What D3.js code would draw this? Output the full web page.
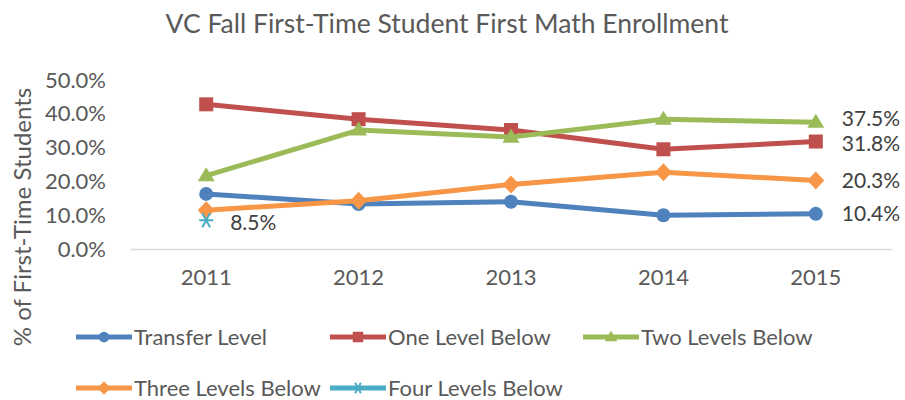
<!DOCTYPE html>
<html>
<head>
<meta charset="utf-8">
<script src="https://cdn.jsdelivr.net/npm/d3@7"></script>
<style>
body { margin: 0; background: #fff; }
svg text { font-family: Lato, "Open Sans", sans-serif; }
</style>
</head>
<body>
<div id="chart"></div>
<script>
let years = ['2011', '2012', '2013', '2014', '2015']
let yTicks = [0, 0.1, 0.2, 0.3, 0.4, 0.5]

let transferLevel = [0.163, 0.133, 0.140, 0.100, 0.104]
let oneLevelBelow = [0.428, 0.384, 0.352, 0.295, 0.318]
let twoLevelsBelow = [0.217, 0.352, 0.331, 0.384, 0.375]
let threeLevelsBelow = [0.115, 0.143, 0.191, 0.227, 0.203]
let fourLevelsBelow = [0.085, null, null, null, null]

let seriesNames = ['Transfer Level', 'One Level Below', 'Two Levels Below', 'Three Levels Below', 'Four Levels Below']
let seriesColors = ['#4f81bd', '#c0504d', '#9bbb59', '#f79646', '#4bacc6']
let seriesShapes = ['circle', 'square', 'triangle', 'diamond', 'asterisk']

let series = [transferLevel, oneLevelBelow, twoLevelsBelow, threeLevelsBelow, fourLevelsBelow]
.map((vals, i) => ({ name: seriesNames[i], color: seriesColors[i], shape: seriesShapes[i], values: vals }))

let width = 905, height = 400

let svg = d3.select('#chart')
.append('svg')
.attr('width', width)
.attr('height', height)

// title
svg.append('text')
.attr('x', 447)
.attr('y', 33)
.attr('text-anchor', 'middle')
.style('font-size', '26.5px')
.style('fill', '#595959')
.text('VC Fall First-Time Student First Math Enrollment')

let x = d3.scaleBand().domain(years).range([130, 892])
let y = d3.scaleLinear().domain([0, 0.5]).range([249, 80])

// y axis, labels only
let yAxis = svg.append('g')
.attr('transform', 'translate(106,0)')
.call(d3.axisLeft(y).tickValues(yTicks).tickFormat(d3.format('.1%')).tickSize(0).tickPadding(0))
yAxis.select('.domain').remove()
yAxis.selectAll('text').style('font-size', '22px').style('fill', '#595959').style('font-family', 'Lato, sans-serif')

// x axis
let xAxis = svg.append('g')
.attr('transform', `translate(0,${y(0)})`)
.call(d3.axisBottom(x).tickSize(0).tickPadding(20))
xAxis.select('.domain').attr('stroke', '#d9d9d9').attr('stroke-width', 1.5)
xAxis.selectAll('text').style('font-size', '22px').style('fill', '#595959').style('font-family', 'Lato, sans-serif')

// y axis title
svg.append('text')
.attr('transform', 'translate(31,217) rotate(-90)')
.attr('text-anchor', 'middle')
.style('font-size', '24px')
.style('fill', '#595959')
.text('% of First-Time Students')

let cx = d => x(d) + x.bandwidth() / 2

function drawMarker(g, shape, color, k) {
    // k scales the marker (1 = plot size)
    if (shape == 'asterisk') {
        let s = 7 * k
        g.append('path')
        .attr('d', `M${-s},0L${s},0M${-s*0.55},${-s}L${s*0.55},${s}M${-s*0.55},${s}L${s*0.55},${-s}`)
        .attr('stroke', color).attr('stroke-width', 2).attr('fill', 'none')
        return
    }
    if (shape == 'diamond') {
        let w = 8.5 * k, h = 9 * k
        g.append('path')
        .attr('d', `M0,${-h}L${w},0L0,${h}L${-w},0Z`)
        .attr('fill', color)
        return
    }
    if (shape == 'triangle') {
        let w = 8.5 * k
        g.append('path')
        .attr('d', `M0,${-w}L${w},${w*0.65}L${-w},${w*0.65}Z`)
        .attr('fill', color)
        return
    }
    if (shape == 'square') {
        let w = 7 * k
        g.append('rect')
        .attr('x', -w).attr('y', -w).attr('width', 2 * w).attr('height', 2 * w)
        .attr('fill', color)
        return
    }
    g.append('circle').attr('r', 7 * k).attr('fill', color)
}

let line = d3.line()
.defined(d => d.v != null)
.x(d => cx(d.year))
.y(d => y(d.v))

for (let s of series) {
    let pts = years.map((yr, i) => ({ year: yr, v: s.values[i] }))
    svg.append('path')
    .datum(pts)
    .attr('d', line)
    .attr('fill', 'none')
    .attr('stroke', s.color)
    .attr('stroke-width', 5)
    .attr('stroke-linejoin', 'round')

    for (let p of pts.filter(p => p.v != null)) {
        let g = svg.append('g').attr('transform', `translate(${cx(p.year)},${y(p.v)})`)
        drawMarker(g, s.shape, s.color, 1)
    }
}

// data labels (the two top ones are pushed apart a little)
let lastIdx = years.length - 1
let labelNudge = [0, 2, -4, 0]
series.slice(0, 4).forEach((s, i) => {
    svg.append('text')
    .attr('x', cx(years[lastIdx]) + 26)
    .attr('y', y(s.values[lastIdx]) + labelNudge[i])
    .attr('dy', '0.35em')
    .style('font-size', '21px')
    .style('fill', '#404040')
    .text(d3.format('.1%')(s.values[lastIdx]))
})
svg.append('text')
.attr('x', cx(years[0]) + 24)
.attr('y', y(fourLevelsBelow[0]) + 2)
.attr('dy', '0.35em')
.style('font-size', '21px')
.style('fill', '#404040')
.text(d3.format('.1%')(fourLevelsBelow[0]))

// legend
let legendPos = [[76, 337], [330, 337], [583, 337], [76, 388], [330, 388]]
series.forEach((s, i) => {
    let [lx, ly] = legendPos[i]
    let g = svg.append('g').attr('transform', `translate(${lx},${ly})`)
    g.append('line')
    .attr('x1', 0).attr('x2', 56)
    .attr('stroke', s.color).attr('stroke-width', 5)
    let m = g.append('g').attr('transform', 'translate(28,0)')
    drawMarker(m, s.shape, s.color, 0.75)
    g.append('text')
    .attr('x', 58)
    .attr('dy', '0.35em')
    .style('font-size', '22px')
    .style('fill', '#595959')
    .text(s.name)
})
</script>
</body>
</html>
